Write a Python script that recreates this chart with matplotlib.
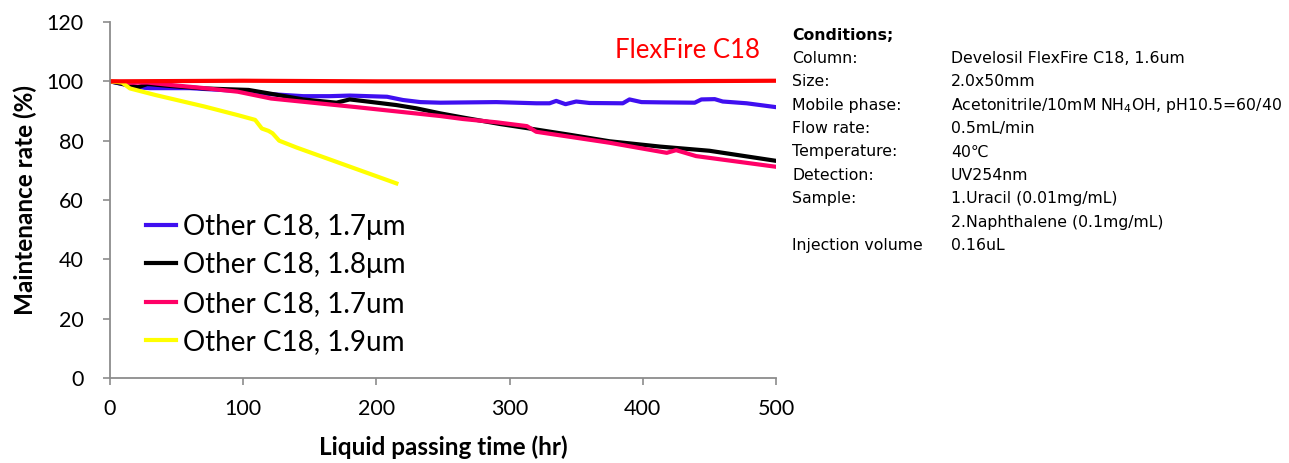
import matplotlib
matplotlib.use("Agg")
import matplotlib.pyplot as plt

# ---- data ----
red_x = [0, 100, 200, 300, 400, 500]
red_y = [100.0, 100.2, 100.0, 100.0, 100.0, 100.2]

blue_x = [0, 10, 20, 30, 60, 95, 120, 145, 165, 180, 208, 220, 233, 248, 290, 320, 330,
          335, 342, 350, 360, 385, 390, 399, 415, 439, 444, 454, 460, 478, 500]
blue_y = [100, 99.0, 98.0, 97.7, 97.7, 96.8, 95.7, 95.0, 95.0, 95.2, 94.8, 93.7, 93.0, 92.8,
          93.0, 92.6, 92.6, 93.4, 92.3, 93.2, 92.7, 92.6, 93.9, 93.0, 92.9, 92.8, 93.9, 94.0,
          93.2, 92.6, 91.3]

black_x = [0, 13, 21, 28, 46, 71, 104, 121, 145, 170, 180, 195, 215, 230, 248, 265, 293,
           315, 345, 375, 413, 450, 500]
black_y = [100, 98.8, 98.0, 99.1, 98.4, 97.6, 97.1, 95.8, 93.9, 92.8, 93.9, 93.1, 92.0,
           90.9, 89.2, 87.8, 85.6, 84.1, 82.0, 79.8, 78.0, 76.6, 73.2]

pink_x = [0, 15, 28, 46, 71, 96, 121, 185, 248, 265, 290, 313, 320, 375, 418, 425, 440, 500]
pink_y = [100, 99.5, 99.6, 98.75, 97.7, 96.5, 94.2, 91.3, 88.3, 87.3, 86.2, 84.9, 83.0,
          79.3, 75.9, 76.8, 74.8, 71.2]

yellow_x = [0, 9, 15, 34, 71, 96, 109, 114, 119, 122, 127, 140, 215]
yellow_y = [100, 99.6, 97.6, 95.4, 91.5, 88.6, 87.0, 84.1, 83.3, 82.5, 80.0, 77.7, 65.6]

labels = ["Other C18, 1.7\u03bcm", "Other C18, 1.8\u03bcm", "Other C18, 1.7um", "Other C18, 1.9um"]
x_ticks = [0, 100, 200, 300, 400, 500]
y_ticks = [0, 20, 40, 60, 80, 100, 120]

cond_keys = ["Column:", "Size:", "Mobile phase:", "Flow rate:", "Temperature:", "Detection:",
             "Sample:", "", "Injection volume"]
cond_vals = ["Develosil FlexFire C18, 1.6um", "2.0x50mm",
             r"Acetonitrile/10mM NH$_4$OH, pH10.5=60/40", "0.5mL/min", "40\u2103",
             "UV254nm", "1.Uracil (0.01mg/mL)", "2.Naphthalene (0.1mg/mL)", "0.16uL"]

# ---- figure ----
W, H = 1289, 463
fig = plt.figure(figsize=(W / 100, H / 100), dpi=100)
ax = fig.add_axes([110 / W, (H - 378) / H, 666 / W, 356 / H])

lw = 3.0
ax.plot(blue_x, blue_y, color="#3F0FF0", lw=lw, label=labels[0], solid_joinstyle="round")
ax.plot(black_x, black_y, color="#000000", lw=lw, label=labels[1], solid_joinstyle="round")
ax.plot(pink_x, pink_y, color="#FF0066", lw=lw, label=labels[2], solid_joinstyle="round")
ax.plot(yellow_x, yellow_y, color="#FFFF00", lw=lw, label=labels[3], solid_joinstyle="round")
ax.plot(red_x, red_y, color="#FF0000", lw=lw, solid_joinstyle="round")

ax.set_xlim(0, 500)
ax.set_ylim(0, 120)
ax.set_xticks(x_ticks)
ax.set_yticks(y_ticks)

font = "Lato"
for s in ["top", "right"]:
    ax.spines[s].set_visible(False)
for s in ["left", "bottom"]:
    ax.spines[s].set_color("#8C8C8C")
    ax.spines[s].set_linewidth(1.3)
ax.tick_params(axis="y", direction="out", length=5, width=1.2, color="#8C8C8C", pad=14,
               labelsize=15.5)
ax.tick_params(axis="x", direction="out", length=5, width=1.2, color="#8C8C8C", pad=10,
               labelsize=15.5)
for t in ax.get_xticklabels() + ax.get_yticklabels():
    t.set_fontfamily(font)

ax.set_ylabel("Maintenance rate (%)", fontsize=17.5, fontweight="bold", family=font, labelpad=7)
ax.set_xlabel("Liquid passing time (hr)", fontsize=17.5, fontweight="bold", family=font,
              labelpad=12)

leg = ax.legend(loc="lower left", bbox_to_anchor=(0.038, 0.033), frameon=False,
                prop={"family": font, "size": 20}, handlelength=1.05, handletextpad=0.25,
                labelspacing=0.45, borderaxespad=0.0)

ax.text(0.976, 0.92, "FlexFire C18", transform=ax.transAxes, color="#FF0000",
        fontsize=18.5, family=font, ha="right", va="center")

# conditions block
x1, x2 = 792 / W, 951 / W
y0 = 35
dy = 23.4
fs = 11.3
fig.text(x1, 1 - y0 / H, "Conditions;", fontsize=fs, fontweight="bold",
         family="DejaVu Sans", va="center", ha="left")
for i, (k, v) in enumerate(zip(cond_keys, cond_vals)):
    yy = 1 - (y0 + dy * (i + 1)) / H
    fig.text(x1, yy, k, fontsize=fs, family="DejaVu Sans", va="center", ha="left")
    fig.text(x2, yy, v, fontsize=fs, family="DejaVu Sans", va="center", ha="left")

fig.savefig("out.png", dpi=100)
